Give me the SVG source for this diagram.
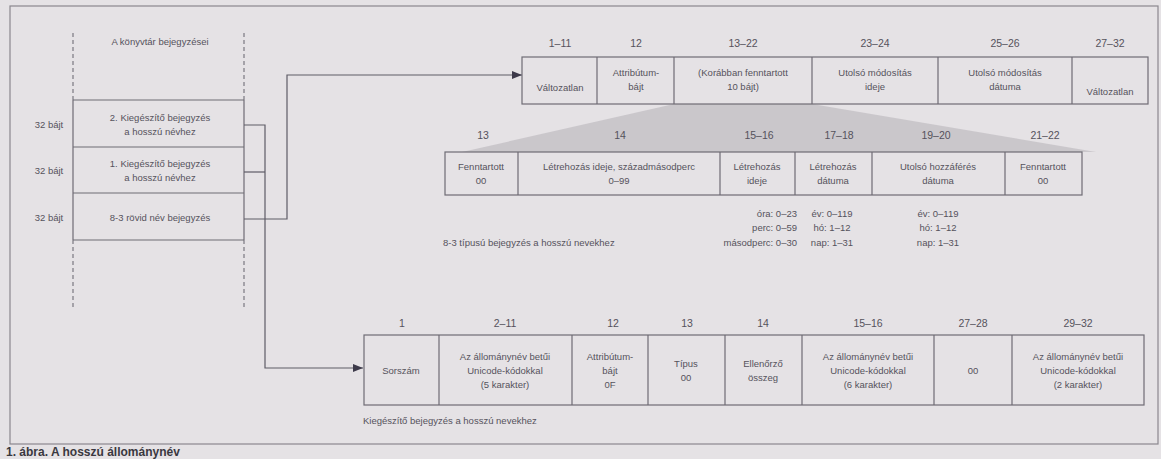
<svg xmlns="http://www.w3.org/2000/svg" width="1161" height="459" viewBox="0 0 1161 459">
<defs>
<marker id="arr" viewBox="0 0 10 8" refX="10" refY="4" markerWidth="10" markerHeight="8" markerUnits="userSpaceOnUse" orient="auto">
<path d="M0,0 L10,4 L0,8 Z" fill="#3d3a4a"/>
</marker>
<style>
text{font-family:"Liberation Sans",Arial,sans-serif;font-size:9.5px;fill:#55525c}
.c{text-anchor:middle}
.r{text-anchor:end}
.h{font-size:10.5px}
.box{fill:none;stroke:#6e6c74;stroke-width:1.2}
.ln{fill:none;stroke:#6e6c74;stroke-width:1.2}
.dash{fill:none;stroke:#7a7880;stroke-width:1.2;stroke-dasharray:4 3}
.con{fill:none;stroke:#5e5c66;stroke-width:1.2}
.cap{font-size:12px;font-weight:bold;fill:#3a3840}
</style>
</defs>
<rect x="0" y="0" width="1161" height="459" fill="#e5e2e5"/>
<rect x="10" y="6" width="1148" height="438" fill="none" stroke="#8a878e" stroke-width="1.2"/>

<g id="directory">
<line class="dash" x1="73" y1="33" x2="73" y2="100"/>
<line class="dash" x1="244" y1="33" x2="244" y2="100"/>
<line class="ln" x1="73" y1="100" x2="73" y2="240"/>
<line class="ln" x1="244" y1="100" x2="244" y2="240"/>
<line class="dash" x1="73" y1="240" x2="73" y2="310"/>
<line class="dash" x1="244" y1="240" x2="244" y2="310"/>
<line class="ln" x1="73" y1="100" x2="244" y2="100"/>
<line class="ln" x1="73" y1="147" x2="244" y2="147"/>
<line class="ln" x1="73" y1="193" x2="244" y2="193"/>
<line class="ln" x1="73" y1="240" x2="244" y2="240"/>
<text class="c" x="160" y="45">A könyvtár bejegyzései</text>
<text class="c" x="160" y="121">2. Kiegészítő bejegyzés</text>
<text class="c" x="160" y="135">a hosszú névhez</text>
<text class="c" x="160" y="167">1. Kiegészítő bejegyzés</text>
<text class="c" x="160" y="181">a hosszú névhez</text>
<text class="c" x="160" y="221">8-3 rövid név bejegyzés</text>
<text class="c" x="49" y="128">32 bájt</text>
<text class="c" x="49" y="174">32 bájt</text>
<text class="c" x="49" y="221">32 bájt</text>
</g>

<g id="connectors">
<path class="con" d="M244,125 H265 V368 H363" marker-end="url(#arr)"/>
<path class="con" d="M244,172 H265"/>
<path class="con" d="M244,219 H287 V75 H522" marker-end="url(#arr)"/>
</g>

<polygon id="zoom-shade" points="674,104 812,104 1096,152 462,152" fill="#c6c2c7" opacity="0.85"/>

<g id="short-entry">
<rect class="box" x="522" y="57" width="626" height="47" fill="#e8e5e8"/>
<line class="ln" x1="597" y1="57" x2="597" y2="104"/>
<line class="ln" x1="674" y1="57" x2="674" y2="104"/>
<line class="ln" x1="812" y1="57" x2="812" y2="104"/>
<line class="ln" x1="938" y1="57" x2="938" y2="104"/>
<line class="ln" x1="1072" y1="57" x2="1072" y2="104"/>
<text class="c h" x="560" y="47">1–11</text>
<text class="c h" x="636" y="47">12</text>
<text class="c h" x="743" y="47">13–22</text>
<text class="c h" x="875" y="47">23–24</text>
<text class="c h" x="1005" y="47">25–26</text>
<text class="c h" x="1110" y="47">27–32</text>
<text class="c" x="560" y="91">Változatlan</text>
<text class="c" x="636" y="76">Attribútum-</text>
<text class="c" x="636" y="90">bájt</text>
<text class="c" x="743" y="76">(Korábban fenntartott</text>
<text class="c" x="743" y="90">10 bájt)</text>
<text class="c" x="875" y="76">Utolsó módosítás</text>
<text class="c" x="875" y="90">ideje</text>
<text class="c" x="1005" y="76">Utolsó módosítás</text>
<text class="c" x="1005" y="90">dátuma</text>
<text class="c" x="1110" y="95">Változatlan</text>
</g>

<g id="reserved-detail">
<rect class="box" x="445" y="152" width="637" height="43" fill="#e8e5e8"/>
<line class="ln" x1="518" y1="152" x2="518" y2="195"/>
<line class="ln" x1="720" y1="152" x2="720" y2="195"/>
<line class="ln" x1="795" y1="152" x2="795" y2="195"/>
<line class="ln" x1="872" y1="152" x2="872" y2="195"/>
<line class="ln" x1="1005" y1="152" x2="1005" y2="195"/>
<text class="c h" x="483" y="139">13</text>
<text class="c h" x="620" y="139">14</text>
<text class="c h" x="759" y="139">15–16</text>
<text class="c h" x="839" y="139">17–18</text>
<text class="c h" x="936" y="139">19–20</text>
<text class="c h" x="1045" y="139">21–22</text>
<text class="c" x="481" y="170">Fenntartott</text>
<text class="c" x="481" y="184">00</text>
<text class="c" x="619" y="170">Létrehozás ideje, századmásodperc</text>
<text class="c" x="619" y="184">0–99</text>
<text class="c" x="757" y="170">Létrehozás</text>
<text class="c" x="757" y="184">ideje</text>
<text class="c" x="833" y="170">Létrehozás</text>
<text class="c" x="833" y="184">dátuma</text>
<text class="c" x="938" y="170">Utolsó hozzáférés</text>
<text class="c" x="938" y="184">dátuma</text>
<text class="c" x="1043" y="170">Fenntartott</text>
<text class="c" x="1043" y="184">00</text>
<text class="r" x="797" y="217">óra: 0–23</text>
<text class="r" x="797" y="231">perc: 0–59</text>
<text class="r" x="797" y="246">másodperc: 0–30</text>
<text class="c" x="832" y="217">év: 0–119</text>
<text class="c" x="832" y="231">hó: 1–12</text>
<text class="c" x="832" y="246">nap: 1–31</text>
<text class="c" x="938" y="217">év: 0–119</text>
<text class="c" x="938" y="231">hó: 1–12</text>
<text class="c" x="938" y="246">nap: 1–31</text>
<text x="443" y="246">8-3 típusú bejegyzés a hosszú nevekhez</text>
</g>

<g id="long-entry">
<rect class="box" x="364" y="335" width="780" height="70" fill="#e8e5e8"/>
<line class="ln" x1="439" y1="335" x2="439" y2="405"/>
<line class="ln" x1="572" y1="335" x2="572" y2="405"/>
<line class="ln" x1="648" y1="335" x2="648" y2="405"/>
<line class="ln" x1="725" y1="335" x2="725" y2="405"/>
<line class="ln" x1="802" y1="335" x2="802" y2="405"/>
<line class="ln" x1="934" y1="335" x2="934" y2="405"/>
<line class="ln" x1="1012" y1="335" x2="1012" y2="405"/>
<text class="c h" x="402" y="327">1</text>
<text class="c h" x="505" y="327">2–11</text>
<text class="c h" x="613" y="327">12</text>
<text class="c h" x="687" y="327">13</text>
<text class="c h" x="763" y="327">14</text>
<text class="c h" x="868" y="327">15–16</text>
<text class="c h" x="973" y="327">27–28</text>
<text class="c h" x="1078" y="327">29–32</text>
<text class="c" x="401" y="374">Sorszám</text>
<text class="c" x="505" y="360">Az állománynév betűi</text>
<text class="c" x="505" y="374">Unicode-kódokkal</text>
<text class="c" x="505" y="388">(5 karakter)</text>
<text class="c" x="610" y="360">Attribútum-</text>
<text class="c" x="610" y="374">bájt</text>
<text class="c" x="610" y="388">0F</text>
<text class="c" x="686" y="367">Típus</text>
<text class="c" x="686" y="381">00</text>
<text class="c" x="763" y="367">Ellenőrző</text>
<text class="c" x="763" y="381">összeg</text>
<text class="c" x="868" y="360">Az állománynév betűi</text>
<text class="c" x="868" y="374">Unicode-kódokkal</text>
<text class="c" x="868" y="388">(6 karakter)</text>
<text class="c" x="973" y="374">00</text>
<text class="c" x="1078" y="360">Az állománynév betűi</text>
<text class="c" x="1078" y="374">Unicode-kódokkal</text>
<text class="c" x="1078" y="388">(2 karakter)</text>
<text x="363" y="424">Kiegészítő bejegyzés a hosszú nevekhez</text>
</g>

<text class="cap" x="6" y="456">1. ábra. A hosszú állománynév</text>
</svg>
